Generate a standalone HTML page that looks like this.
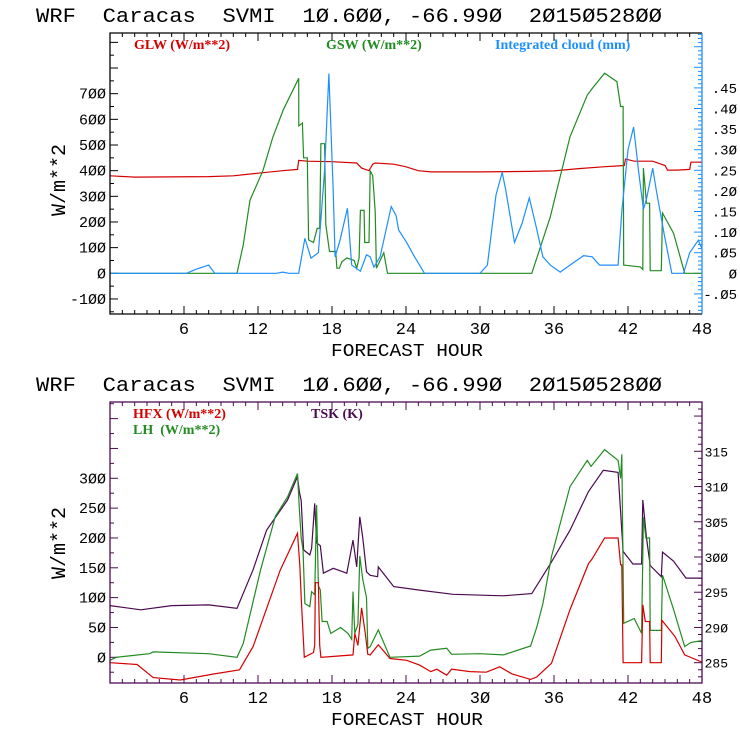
<!DOCTYPE html>
<html><head><meta charset="utf-8"><style>
html,body{margin:0;padding:0;background:#fff;}
svg{display:block;font-family:"Liberation Mono",monospace;}
.lg{font-family:"Liberation Serif",serif;font-weight:bold;font-size:14px;white-space:pre;}
.pre{white-space:pre;}
</style></head><body>
<svg id="c" width="740" height="740" viewBox="0 0 740 740" xmlns="http://www.w3.org/2000/svg"></svg>
<script>
// ---- Top panel data ----
const glwHours=[0,2,8,10,12,14,15.2,15.3,16,18,20,20.4,21,21.3,21.5,23,24,25,26,30,34,36,38,40,41.7,41.8,42.5,44,45,45.2,46,47,47.1,48];
const glwVals=[380,375,377,380,390,400,405,440,437,435,430,410,400,425,430,425,415,400,395,395,397,399,408,415,420,445,437,437,420,402,402,405,433,433];
const gswHours=[0,10.3,10.8,11.35,12.4,13.2,14.05,15.3,15.31,15.6,15.7,16,16.1,16.5,16.8,17,17.1,17.4,17.5,17.8,18.3,18.4,18.6,18.8,19.2,19.8,20,20.2,20.3,20.6,20.65,21,21.1,21.3,21.5,21.6,22.2,22.5,34.2,35.7,37.3,38.7,39.1,40.1,41.1,41.4,41.6,41.65,43.0,43.2,43.25,43.5,43.75,43.8,44.7,44.8,45.7,46.6,48];
const gswVals=[0,0,110,285,400,530,637,760,575,585,450,450,130,120,175,175,505,505,190,85,85,20,20,45,60,50,20,60,245,245,120,120,400,380,240,20,80,0,0,220,532,695,720,780,747,650,650,32,25,15,410,273,273,10,10,235,156,0,0];
const cldHours=[0,6.2,7,8,8.5,13.5,14,14.5,15.3,15.8,16.3,16.9,17.4,17.75,18.1,18.25,18.65,19.25,19.6,20.3,20.8,21.1,21.4,21.9,22.8,23.2,23.4,24.05,24.6,25.5,30,30.6,31.3,31.8,32.1,32.8,33.4,34.0,34.5,35.1,35.7,36.5,37.3,38.4,39.1,39.7,41.2,41.5,42,42.45,42.85,43.25,43.5,44.0,44.3,44.9,45.55,46.5,47,47.7,48];
const cldVals=[0,0,0.01,0.02,0,0,0.003,0,0,0.085,0.037,0.05,0.25,0.485,0.2,0.04,0.08,0.158,0.02,0.005,0.045,0.04,0.015,0.04,0.162,0.14,0.105,0.075,0.045,0,0,0.02,0.19,0.245,0.2,0.075,0.12,0.183,0.12,0.04,0.02,0.003,0.02,0.043,0.04,0.02,0.02,0.15,0.3,0.355,0.25,0.155,0.18,0.255,0.2,0.1,0,0,0.05,0.08,0.06];
const topLeftTicks=[-100,0,100,200,300,400,500,600,700];
const topRightTicks=[-0.05,0,0.05,0.10,0.15,0.20,0.25,0.30,0.35,0.40,0.45];
const topRightLabels=["-.05","0",".05",".10",".15",".20",".25",".30",".35",".40",".45"];
// ---- Bottom panel data ----
const hfxHours=[0,2.2,3.5,5.7,8.4,10.5,11.6,13.8,15.2,15.4,15.5,15.75,16.5,16.6,16.65,16.9,17.0,17.1,19.7,19.85,20.1,20.4,20.7,20.9,21.1,21.75,22.7,24.05,25.1,26,26.5,27.3,27.7,29.2,30.5,31.6,32.6,34.1,34.6,35.8,37.3,38.8,39.1,40.1,41.2,41.4,41.5,41.6,43.1,43.2,43.4,43.75,43.8,44.7,44.75,45.8,46.6,48];
const hfxVals=[-9,-12,-34,-38,-28,-21,18,146,208,152,100,0,8,20,125,125,20,0,4,40,20,83,40,5,4,21,-2,-5,-13,-24,-20,-30,-20,-24,-25,-16,-28,-37,-33,-10,80,157,165,200,200,155,155,-9,-9,88,60,60,-9,-9,62,35,4,-8];
const lhHours=[0,0.5,3.2,3.5,8,10.3,10.8,12.2,13.4,14.4,15.2,15.35,15.5,15.65,15.8,16.2,16.35,16.6,16.75,16.9,17.05,17.2,17.6,17.9,18.7,19.3,19.6,19.7,19.85,20.1,20.25,20.5,20.8,20.9,21.1,21.75,22.7,25.1,26,27.3,27.7,30,31.9,34.1,34.6,35.1,35.8,37.3,38.7,39.0,40.1,41.2,41.4,41.5,41.65,42.5,43.1,43.25,43.45,43.75,43.8,44.7,44.8,45.7,46.6,47.1,48];
const lhVals=[-5,0,6,9,6,0,23,146,236,269,308,250,200,180,90,85,110,105,255,120,113,60,60,40,50,40,30,110,40,55,170,130,100,15,18,46,0,2,12,15,5,6,4,19,50,90,169,286,330,320,348,330,300,340,57,65,40,235,200,200,45,45,138,80,18,25,28];
const tskHours=[0,2.5,5,8,10.3,11.6,12.7,14.4,15.2,15.35,15.5,15.7,16.2,16.35,16.6,16.75,17.05,17.3,18.1,19.2,19.7,20,20.25,20.5,20.8,21.1,21.7,21.75,23.0,25.1,27.8,31.9,34.2,35.7,37.3,38.8,40.0,41.2,41.6,42.4,43.1,43.2,43.5,43.8,44.7,44.8,45.7,46.7,48];
const tskVals=[293.1,292.5,293.1,293.2,292.7,298.2,303.8,308.1,311.4,309.3,308.0,301,300.3,301.2,307.6,302.0,301.6,297.7,298.4,297.7,302.4,298.6,305.7,302.7,297.9,297.4,297.2,298.6,295.8,295.3,294.7,294.5,294.8,299,303.8,309.3,312.3,312,300.8,299,299,308.1,302.7,298.8,297.2,300.7,299.4,297.0,297.0];
const botLeftTicks=[0,50,100,150,200,250,300];
const botRightTicks=[285,290,295,300,305,310,315];
const hourTicks=[6,12,18,24,30,36,42,48];

const NS="http://www.w3.org/2000/svg";
const svg=document.getElementById('c');
function mk(tag,attrs,parent){const e=document.createElementNS(NS,tag);for(const k in attrs)e.setAttribute(k,attrs[k]);(parent||svg).appendChild(e);return e;}
const X0=110,X1=702;
function xh(h){return X0+h*(X1-X0)/48;}
const T={top:33,bot:314};
function yTop(v){return 273.3-v*0.2566;}
function yCld(c){return 273.3-c*412;}
const B={top:402,bot:683};
function yBot(v){return 657.3-v*0.5967;}
function yTsk(t){return 662.7-(t-285)*7.047;}

function line(hours,vals,yf,color,name,clipId){
  const pts=hours.map((h,i)=>xh(h).toFixed(1)+','+yf(vals[i]).toFixed(1)).join(' ');
  const p=mk('polyline',{points:pts,fill:'none',stroke:color,'stroke-width':1.2,'clip-path':'url(#'+clipId+')'});
  
  
}
function txt(x,y,s,attrs,name){const t=mk('text',Object.assign({x:x,y:y},attrs));t.textContent=s;
  
  return t;}

const defs=mk('defs',{});
const c1=mk('clipPath',{id:'cp1'},defs);mk('rect',{x:X0,y:T.top,width:X1-X0,height:T.bot-T.top},c1);
const c2=mk('clipPath',{id:'cp2'},defs);mk('rect',{x:X0,y:B.top,width:X1-X0,height:B.bot-B.top},c2);

function panel(P,frameColor,pre){
  txt(36,P.top-11,'WRF  Caracas  SVMI  1Ø.6ØØ, -66.99Ø  2Ø15Ø528ØØ',{'font-size':20,textLength:626,lengthAdjust:'spacingAndGlyphs',fill:'#000',class:'pre'},pre+'-title');
  for(let h=1;h<48;h++){
    const major=h%6===0, len=major?8:4, x=xh(h);
    mk('line',{x1:x,x2:x,y1:P.bot,y2:P.bot-len,stroke:frameColor,'stroke-width':1});
    mk('line',{x1:x,x2:x,y1:P.top,y2:P.top+len,stroke:frameColor,'stroke-width':1});
  }
  hourTicks.forEach(h=>txt(xh(h),P.bot+20,String(h).replace(/0/g,'Ø'),{'font-size':17,'text-anchor':'middle',fill:'#000'},pre+'-x-tick-label'));
  txt(407,P.bot+42,'FORECAST HOUR',{'font-size':18,'text-anchor':'middle',fill:'#000',textLength:152,lengthAdjust:'spacingAndGlyphs'},pre+'-x-axis-title');
}
panel(T,'#000','top');
panel(B,'#4b0a50','bottom');

for(let v=-150;v<=900;v+=50){const y=yTop(v);if(y<T.top||y>T.bot)continue;const len=(v%100===0)?8:4;
  mk('line',{x1:X0,x2:X0+len,y1:y,y2:y,stroke:'#000'});}
topLeftTicks.forEach(v=>txt(106,yTop(v)+5,String(v).replace(/0/g,'Ø'),{'font-size':15,'text-anchor':'end',fill:'#000'},'top-y-tick-label'));
for(let i=-9;i<=62;i++){const c=i/100,y=yCld(c);if(y<T.top||y>T.bot)continue;const len=(i%5===0)?8:4;
  mk('line',{x1:X1,x2:X1-len,y1:y,y2:y,stroke:'#1e8fff'});}
topRightTicks.forEach((c,i)=>txt(737,yCld(c)+5,topRightLabels[i].replace(/0/g,'Ø'),{'font-size':14,'text-anchor':'end',fill:'#000'},'top-right-tick-label'));
txt(0,0,'W/m**2',{'font-size':20,'text-anchor':'middle',fill:'#000',transform:'translate(65,180) rotate(-90)'},'top-y-axis-title');

for(let v=-25;v<=425;v+=25){const y=yBot(v);if(y<B.top||y>B.bot)continue;const len=(v%50===0)?8:4;
  mk('line',{x1:X0,x2:X0+len,y1:y,y2:y,stroke:'#4b0a50'});}
botLeftTicks.forEach(v=>txt(106,yBot(v)+5,String(v).replace(/0/g,'Ø'),{'font-size':15,'text-anchor':'end',fill:'#000'},'bottom-y-tick-label'));
for(let t=283;t<=322;t++){const y=yTsk(t);if(y<B.top||y>B.bot)continue;const len=(t%5===0)?8:4;
  mk('line',{x1:X1,x2:X1-len,y1:y,y2:y,stroke:'#4b0a50'});}
botRightTicks.forEach(t=>txt(728,yTsk(t)+5,String(t).replace(/0/g,'Ø'),{'font-size':13,'text-anchor':'end',fill:'#000'},'bottom-right-tick-label'));
txt(0,0,'W/m**2',{'font-size':20,'text-anchor':'middle',fill:'#000',transform:'translate(65,543) rotate(-90)'},'bottom-y-axis-title');

line(glwHours,glwVals,yTop,'#d40000','glw-line','cp1');
line(gswHours,gswVals,yTop,'#228b22','gsw-line','cp1');
line(cldHours,cldVals,yCld,'#1e8fff','cloud-line','cp1');
line(tskHours,tskVals,yTsk,'#4b0a50','tsk-line','cp2');
line(lhHours,lhVals,yBot,'#228b22','lh-line','cp2');
line(hfxHours,hfxVals,yBot,'#d40000','hfx-line','cp2');

mk('polyline',{points:`${X1},${T.top} ${X0},${T.top} ${X0},${T.bot} ${X1},${T.bot}`,fill:'none',stroke:'#000','stroke-width':1.3});
mk('line',{x1:X1,x2:X1,y1:T.top,y2:T.bot,stroke:'#1e8fff','stroke-width':1.3});
mk('rect',{x:X0,y:B.top,width:X1-X0,height:B.bot-B.top,fill:'none',stroke:'#4b0a50','stroke-width':1.3});

txt(134,49,'GLW (W/m**2)',{class:'lg',fill:'#d40000'},'legend-glw');
txt(326,49,'GSW (W/m**2)',{class:'lg',fill:'#228b22'},'legend-gsw');
txt(495,49,'Integrated cloud (mm)',{class:'lg',fill:'#1e8fff'},'legend-cloud');
txt(133,418,'HFX (W/m**2)',{class:'lg',fill:'#d40000'},'legend-hfx');
txt(133,434,'LH  (W/m**2)',{class:'lg',fill:'#228b22'},'legend-lh');
txt(311,418,'TSK (K)',{class:'lg',fill:'#4b0a50'},'legend-tsk');
</script>
</body></html>
